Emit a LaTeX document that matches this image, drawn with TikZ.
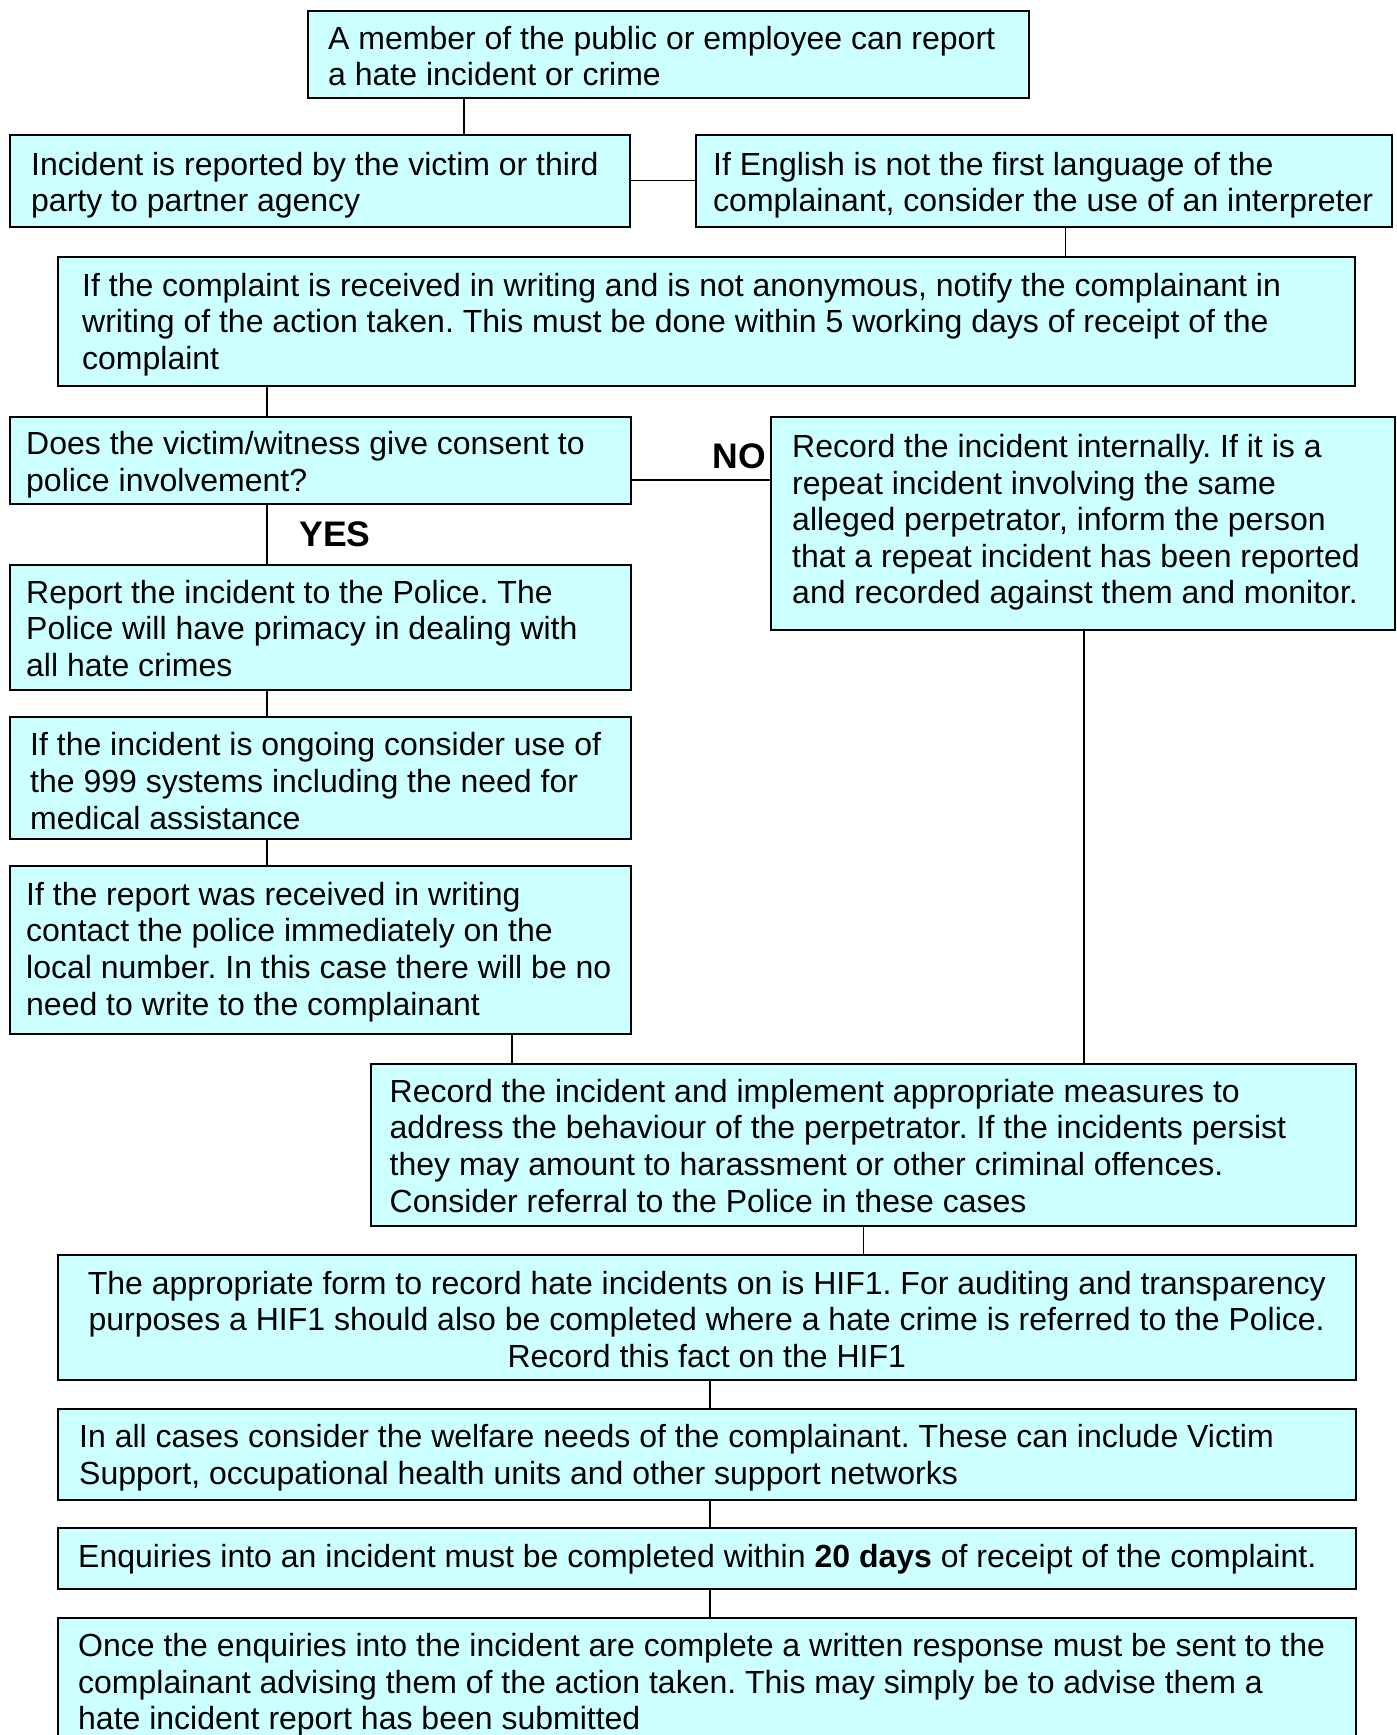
\documentclass[tikz,border=0pt]{standalone}
\usepackage{fontspec}
\setmainfont{Liberation Sans}
\frenchspacing
\definecolor{boxfill}{RGB}{204,255,255}
\begin{document}
\begin{tikzpicture}[x=1pt,y=-1pt,
  box/.style={draw=black, line width=1.5pt, fill=boxfill, anchor=north west, inner sep=0pt},
  txt/.style={font=\fontsize{32}{36.6}\selectfont\frenchspacing, align=left, inner sep=0pt, anchor=west},
  lbl/.style={font=\fontsize{35.5}{40}\selectfont\bfseries, inner sep=0pt},
  conn/.style={draw=black, line width=1.4pt}]
\useasboundingbox (0,0) rectangle (1397,1735);
% boxes
\node[box, minimum width=721pt, minimum height=87pt]  (A) at (307,10) {};
\node[box, minimum width=620pt, minimum height=92pt]  (B) at (9,134) {};
\node[box, minimum width=696pt, minimum height=92pt]  (C) at (695,134) {};
\node[box, minimum width=1297pt, minimum height=129pt] (D) at (57,256) {};
\node[box, minimum width=621pt, minimum height=87pt]  (E) at (9,416) {};
\node[box, minimum width=624pt, minimum height=213pt] (F) at (770,416) {};
\node[box, minimum width=621pt, minimum height=125pt] (G) at (9,564) {};
\node[box, minimum width=621pt, minimum height=122pt] (H) at (9,716) {};
\node[box, minimum width=621pt, minimum height=168pt] (I) at (9,865) {};
\node[box, minimum width=985pt, minimum height=162pt] (J) at (370,1063) {};
\node[box, minimum width=1298pt, minimum height=125pt] (K) at (57,1254) {};
\node[box, minimum width=1298pt, minimum height=91pt]  (L) at (57,1408) {};
\node[box, minimum width=1298pt, minimum height=61pt]  (M) at (57,1527) {};
\node[box, minimum width=1298pt, minimum height=128pt] (N) at (57,1617) {};
% texts
\node[txt] (tA) at ([xshift=21pt,yshift=-2pt]A.west) {A member of the public or employee can report\\a hate incident or crime};
\node[txt] (tB) at ([xshift=22pt,yshift=-4.4pt]B.west) {Incident is reported by the victim or third\\party to partner agency};
\node[txt] (tC) at ([xshift=18pt,yshift=-4.4pt]C.west) {If English is not the first language of the\\complainant, consider the use of an interpreter};
\node[txt] (tD) at ([xshift=25pt,yshift=-3.3pt]D.west) {If the complaint is received in writing and is not anonymous, notify the complainant in\\writing of the action taken. This must be done within 5 working days of receipt of the\\complaint};
\node[txt] (tE) at ([xshift=17pt,yshift=-4.4pt]E.west) {Does the victim/witness give consent to\\police involvement?};
\node[txt] (tF) at ([xshift=22pt,yshift=0.8pt]F.west) {Record the incident internally. If it is a\\repeat incident involving the same\\alleged perpetrator, inform the person\\that a repeat incident has been reported\\and recorded against them and monitor.};
\node[txt] (tG) at ([xshift=17pt,yshift=-1pt]G.west) {Report the incident to the Police. The\\Police will have primacy in dealing with\\all hate crimes};
\node[txt] (tH) at ([xshift=21pt,yshift=-3.3pt]H.west) {If the incident is ongoing consider use of\\the 999 systems including the need for\\medical assistance};
\node[txt] (tI) at ([xshift=17pt,yshift=-2.2pt]I.west) {If the report was received in writing\\contact the police immediately on the\\local number. In this case there will be no\\need to write to the complainant};
\node[txt] (tJ) at ([xshift=19.5pt,yshift=-1pt]J.west) {Record the incident and implement appropriate measures to\\address the behaviour of the perpetrator. If the incidents persist\\they may amount to harassment or other criminal offences.\\Consider referral to the Police in these cases};
\node[txt, align=center, anchor=center] (tK) at ([yshift=-2.2pt]K.center) {The appropriate form to record hate incidents on is HIF1. For auditing and transparency\\purposes a HIF1 should also be completed where a hate crime is referred to the Police.\\Record this fact on the HIF1};
\node[txt] (tL) at ([xshift=22pt,yshift=-3.3pt]L.west) {In all cases consider the welfare needs of the complainant. These can include Victim\\Support, occupational health units and other support networks};
\node[txt] (tM) at ([xshift=21pt,yshift=-1pt]M.west) {Enquiries into an incident must be completed within \textbf{20 days} of receipt of the complaint.};
\node[txt] (tN) at ([xshift=21pt,yshift=-3.3pt]N.west) {Once the enquiries into the incident are complete a written response must be sent to the\\complainant advising them of the action taken. This may simply be to advise them a\\hate incident report has been submitted};
% labels
\node[lbl] (no) at (739,456) {NO};
\node[lbl] (yes) at (335,534) {YES};
% connector guide coordinates
\coordinate (xab) at (464,0);
\coordinate (xcd) at (1065.5,0);
\coordinate (xleft) at (267,0);
\coordinate (xij) at (512,0);
\coordinate (xfj) at (1084,0);
\coordinate (xbot) at (710,0);
\coordinate (yef) at (0,480);
% connectors
\draw[conn] (A.south -| xab) -- (B.north -| xab);
\draw[conn] (B.east) -- (C.west);
\draw[conn] (C.south -| xcd) -- (D.north -| xcd);
\draw[conn] (D.south -| xleft) -- (E.north -| xleft);
\draw[conn] (E.east |- yef) -- (F.west |- yef);
\draw[conn] (E.south -| xleft) -- (G.north -| xleft);
\draw[conn] (G.south -| xleft) -- (H.north -| xleft);
\draw[conn] (H.south -| xleft) -- (I.north -| xleft);
\draw[conn] (I.south -| xij) -- (J.north -| xij);
\draw[conn] (F.south -| xfj) -- (J.north -| xfj);
\draw[conn] (J.south) -- (J.south |- K.north);
\draw[conn] (K.south -| xbot) -- (L.north -| xbot);
\draw[conn] (L.south -| xbot) -- (M.north -| xbot);
\draw[conn] (M.south -| xbot) -- (N.north -| xbot);
\end{tikzpicture}
\end{document}
